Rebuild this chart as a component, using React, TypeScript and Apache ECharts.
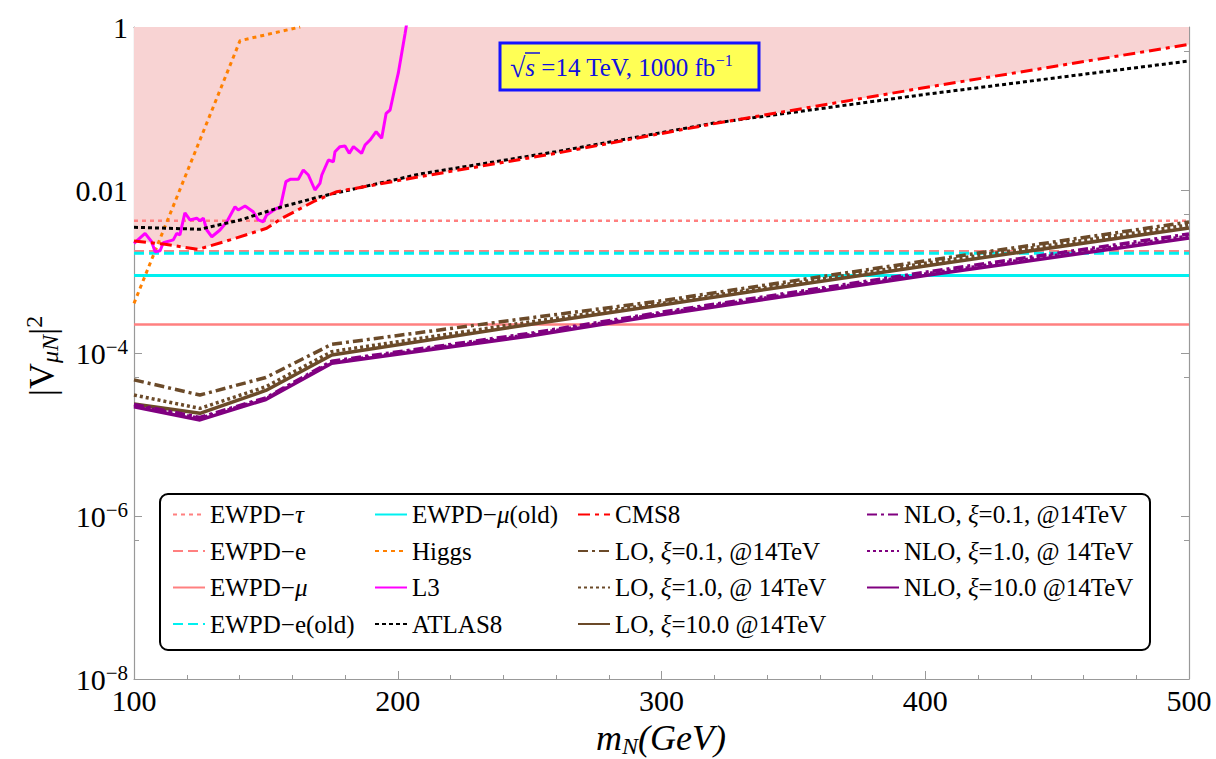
import React, { useEffect, useRef } from "react";
import * as echarts from "echarts";

const FONT = "Liberation Serif";

const xRange = [100, 500];

// horizontal constraints
const ewpdTau = 4.2e-3;
const ewpdE = 1.77e-3;
const ewpdMu = 2.23e-4;
const ewpdEOld = 1.67e-3;
const ewpdMuOld = 8.9e-4;

const higgsX = [100, 140.2, 163];
const higgsY = [4.07e-4, 0.68, 1.0];

const l3X = [100, 104.2, 106.7, 108.0, 109.9, 111.1, 114.9, 116.2, 117.4, 119.3, 121.2, 123.8, 125.0, 126.3, 127.6, 129.5, 132.6, 135.2, 138.3, 139.5, 142.1, 145.2, 147.1, 149.0, 150.3, 154.1, 155.4, 157.6, 159.2, 162.3, 164.2, 166.1, 168.6, 170.5, 171.2, 173.7, 175.6, 176.2, 178.1, 180.0, 181.6, 183.2, 186.3, 187.6, 189.5, 191.8, 193.9, 195.6, 197.1, 199.0, 200.2, 201.5, 202.8, 203.4];
const l3Y = [2.22e-3, 2.94e-3, 2.32e-3, 1.75e-3, 1.8e-3, 2.25e-3, 2.44e-3, 2.94e-3, 2.81e-3, 5.26e-3, 4.29e-3, 4.5e-3, 4.2e-3, 4.5e-3, 3.23e-3, 2.67e-3, 3.23e-3, 4.08e-3, 6.24e-3, 5.69e-3, 6.37e-3, 5.42e-3, 4.29e-3, 4.08e-3, 4.93e-3, 5.96e-3, 5.96e-3, 0.01265, 0.01352, 0.01352, 0.01758, 0.01528, 0.01, 0.01208, 0.01528, 0.02333, 0.02223, 0.02951, 0.03404, 0.03467, 0.02818, 0.03404, 0.02818, 0.03565, 0.04102, 0.05188, 0.04305, 0.0873, 0.0959, 0.185, 0.271, 0.476, 0.837, 1.11];

const atlasX = [100, 125, 140.2, 155.4, 170.5, 208.4, 260, 319.3, 398.3, 500];
const atlasY = [3.49e-3, 3.3e-3, 4.28e-3, 6.13e-3, 8.28e-3, 0.0157, 0.0295, 0.0658, 0.1466, 0.383];

const cmsX = [100, 111.1, 124.4, 136.4, 150.3, 155.4, 168, 176.9, 208.4, 260, 319.3, 398.3, 500];
const cmsY = [2.37e-3, 2.17e-3, 1.87e-3, 2.44e-3, 3.39e-3, 4.37e-3, 7.18e-3, 9.53e-3, 0.01456, 0.0282, 0.0646, 0.177, 0.612];

const massX = [100, 125, 150, 175, 250, 300, 400, 500];
const lo01 = [4.68e-5, 3.05e-5, 5.01e-5, 1.28e-4, 2.69e-4, 4.37e-4, 1.35e-3, 4.05e-3];
const lo10 = [3.05e-5, 2.09e-5, 3.86e-5, 1.04e-4, 2.4e-4, 4.07e-4, 1.26e-3, 3.72e-3];
const lo100 = [2.37e-5, 1.82e-5, 3.47e-5, 9.44e-5, 2.24e-4, 3.89e-4, 1.17e-3, 3.42e-3];
const nlo01 = [2.34e-5, 1.62e-5, 2.82e-5, 7.94e-5, 1.74e-4, 3.16e-4, 9.77e-4, 2.88e-3];
const nlo10 = [2.26e-5, 1.58e-5, 2.75e-5, 7.67e-5, 1.68e-4, 3.05e-4, 9.33e-4, 2.72e-3];
const nlo100 = [2.19e-5, 1.51e-5, 2.69e-5, 7.5e-5, 1.62e-4, 2.95e-4, 8.91e-4, 2.57e-3];

const legendCols = [
  ["EWPD-τ", "EWPD-e", "EWPD-μ", "EWPD-e(old)"],
  ["EWPD-μ(old)", "Higgs", "L3", "ATLAS8"],
  ["CMS8", "LO, ξ=0.1, @14TeV", "LO, ξ=1.0, @ 14TeV", "LO, ξ=10.0 @14TeV"],
  ["NLO, ξ=0.1, @14TeV", "NLO, ξ=1.0, @ 14TeV", "NLO, ξ=10.0 @14TeV"],
];
const legendLabels: Record<string, string> = {
  "EWPD-τ": "EWPD−{i|τ}",
  "EWPD-e": "EWPD−e",
  "EWPD-μ": "EWPD−{i|μ}",
  "EWPD-e(old)": "EWPD−e(old)",
  "EWPD-μ(old)": "EWPD−{i|μ}(old)",
  "LO, ξ=0.1, @14TeV": "LO, {i|ξ}=0.1, @14TeV",
  "LO, ξ=1.0, @ 14TeV": "LO, {i|ξ}=1.0, @ 14TeV",
  "LO, ξ=10.0 @14TeV": "LO, {i|ξ}=10.0 @14TeV",
  "NLO, ξ=0.1, @14TeV": "NLO, {i|ξ}=0.1, @14TeV",
  "NLO, ξ=1.0, @ 14TeV": "NLO, {i|ξ}=1.0, @ 14TeV",
  "NLO, ξ=10.0 @14TeV": "NLO, {i|ξ}=10.0 @14TeV",
};

const pairs = (xs: number[], ys: number[]) => xs.map((x, i) => [x, ys[i]]);
const hline = (v: number) => [[xRange[0], v], [xRange[1], v]];

const PINK = "#ff8080";
const CYAN = "#00f0f0";
const BROWN = "#6b4a29";
const PURPLE = "#800080";
const BLUE = "#1010e0";

const mk = (name: string, data: number[][], color: string, type: any, width: number, z = 3) => ({
  name,
  type: "line",
  data,
  symbol: "none",
  showSymbol: false,
  clip: true,
  z,
  lineStyle: { color, type, width },
  itemStyle: { color },
});

export default function App() {
  const ref = useRef<HTMLDivElement>(null);
  useEffect(() => {
    if (!ref.current) return;
    const chart = echarts.init(ref.current, undefined, { renderer: "svg" });
    const axisCommon = {
      axisLine: { show: true, lineStyle: { color: "#999", width: 1.2 } },
      splitLine: { show: false },
    };
    const option: any = {
      animation: false,
      backgroundColor: "#fff",
      textStyle: { fontFamily: FONT },
      grid: { left: 134, right: 27, top: 27, bottom: 80, containLabel: false, outerBoundsMode: "none" },
      xAxis: [
        {
          type: "value",
          min: xRange[0],
          max: xRange[1],
          interval: 100,
          ...axisCommon,
          axisTick: { show: true, inside: true, length: 8, lineStyle: { color: "#999" } },
          minorTick: { show: true, splitNumber: 5, length: 4, lineStyle: { color: "#999" } },
          axisLabel: { fontSize: 30, fontFamily: FONT, color: "#000", margin: 6 },
        },
        {
          type: "value",
          position: "top",
          min: xRange[0],
          max: xRange[1],
          interval: 100,
          ...axisCommon,
          axisTick: { show: true, inside: true, length: 8, lineStyle: { color: "#999" } },
          minorTick: { show: true, splitNumber: 5, length: 4, lineStyle: { color: "#999" } },
          axisLabel: { show: false },
        },
      ],
      yAxis: [
        {
          type: "log",
          logBase: 10,
          min: 1e-8,
          max: 1,
          interval: 2,
          ...axisCommon,
          axisTick: { show: true, inside: true, length: 8, lineStyle: { color: "#999" } },
          minorTick: { show: true, splitNumber: 2, length: 5, lineStyle: { color: "#999" } },
          axisLabel: {
            margin: 6,
            color: "#000",
            fontFamily: FONT,
            formatter: (v: number) => {
              const e = Math.round(Math.log10(v));
              if (e === 0) return "{b|1}";
              if (e === -2) return "{b|0.01}";
              return `{b|10}{s|−${-e}}`;
            },
            rich: {
              b: { fontSize: 30, fontFamily: FONT, color: "#000", lineHeight: 34 },
              s: { fontSize: 21, fontFamily: FONT, color: "#000", lineHeight: 21, verticalAlign: "top" },
            },
          },
        },
        {
          type: "log",
          logBase: 10,
          position: "right",
          min: 1e-8,
          max: 1,
          interval: 2,
          ...axisCommon,
          axisTick: { show: true, inside: true, length: 8, lineStyle: { color: "#999" } },
          minorTick: { show: true, splitNumber: 2, length: 5, lineStyle: { color: "#999" } },
          axisLabel: { show: false },
        },
      ],
      legend: legendCols.map((col, i) => ({
        data: col,
        orient: "vertical",
        left: [172, 374, 577, 866][i],
        top: 502,
        itemWidth: 32,
        itemHeight: 14,
        itemGap: 11.5,
        padding: 0,
        z: 10,
        selectedMode: false,
        itemStyle: { opacity: 0, borderWidth: 0 },
        formatter: (name: string) => legendLabels[name] ?? name,
        textStyle: {
          fontSize: 25,
          fontFamily: FONT,
          color: "#000",
          lineHeight: 25,
          rich: { i: { fontSize: 25, fontFamily: FONT, fontStyle: "italic", color: "#000", lineHeight: 25 } },
        },
      })),
      graphic: [
        {
          type: "rect",
          z: 5,
          shape: { x: 160, y: 494, width: 990, height: 156, r: 8 },
          style: { fill: "#fff", stroke: "#000", lineWidth: 2 },
        },
        {
          type: "rect",
          z: 20,
          shape: { x: 500, y: 43, width: 259, height: 47 },
          style: { fill: "#ffff55", stroke: "#1414ff", lineWidth: 3 },
        },
        {
          type: "text",
          z: 21,
          x: 510,
          y: 67,
          style: {
            text: "{r|√}{s|s} =14 TeV, 1000 fb{p|−1}",
            fontSize: 25,
            fontFamily: FONT,
            fill: BLUE,
            align: "left",
            verticalAlign: "middle",
            rich: {
              r: { fontSize: 28, fontFamily: FONT, fill: BLUE, lineHeight: 30 },
              s: { fontSize: 25, fontFamily: FONT, fontStyle: "italic", fill: BLUE, lineHeight: 30 },
              p: { fontSize: 16, fontFamily: FONT, fill: BLUE, lineHeight: 16, verticalAlign: "top" },
            },
          },
        },
        {
          type: "line",
          z: 21,
          shape: { x1: 525, y1: 53, x2: 540, y2: 53 },
          style: { stroke: BLUE, lineWidth: 1.5 },
        },
        {
          type: "text",
          z: 21,
          x: 661,
          y: 738,
          style: {
            text: "{i|m}{n|N}{i|(GeV)}",
            align: "center",
            verticalAlign: "middle",
            fill: "#000",
            rich: {
              i: { fontSize: 36, fontFamily: FONT, fontStyle: "italic", fill: "#000", lineHeight: 40 },
              n: { fontSize: 24, fontFamily: FONT, fontStyle: "italic", fill: "#000", lineHeight: 24, verticalAlign: "bottom" },
            },
          },
        },
        {
          type: "text",
          z: 21,
          x: 42,
          y: 356,
          rotation: Math.PI / 2,
          style: {
            text: "{b||V}{n|μN}{b||}{p|2}",
            align: "center",
            verticalAlign: "middle",
            fill: "#000",
            rich: {
              b: { fontSize: 36, fontFamily: FONT, fill: "#000", lineHeight: 40 },
              n: { fontSize: 24, fontFamily: FONT, fontStyle: "italic", fill: "#000", lineHeight: 24, verticalAlign: "bottom" },
              p: { fontSize: 24, fontFamily: FONT, fill: "#000", lineHeight: 24, verticalAlign: "top" },
            },
          },
        },
      ],
      series: [
        {
          name: "fill",
          type: "line",
          data: pairs(cmsX, cmsY),
          symbol: "none",
          z: 1,
          lineStyle: { width: 0, opacity: 0 },
          itemStyle: { color: "#f8d3d3" },
          areaStyle: { color: "#f8d3d3", opacity: 1, origin: "end" },
          silent: true,
        },
        mk("EWPD-τ", hline(ewpdTau), PINK, [4, 4], 2.5, 2),
        mk("EWPD-e", hline(ewpdE), PINK, [10, 5], 2.5, 2),
        mk("EWPD-μ", hline(ewpdMu), PINK, "solid", 2.5, 2),
        mk("EWPD-e(old)", hline(ewpdEOld), CYAN, [10, 5], 3, 2),
        mk("EWPD-μ(old)", hline(ewpdMuOld), CYAN, "solid", 3, 2),
        mk("Higgs", pairs(higgsX, higgsY), "#ff8000", [4, 4], 3),
        mk("L3", pairs(l3X, l3Y), "#ff00ff", "solid", 3),
        mk("ATLAS8", pairs(atlasX, atlasY), "#000", [4, 3], 3),
        mk("CMS8", pairs(cmsX, cmsY), "#ff0000", [12, 5, 4, 5], 3),
        mk("LO, ξ=0.1, @14TeV", pairs(massX, lo01), BROWN, [10, 4, 3, 4], 3.5),
        mk("LO, ξ=1.0, @ 14TeV", pairs(massX, lo10), BROWN, [3, 3], 3.5),
        mk("LO, ξ=10.0 @14TeV", pairs(massX, lo100), BROWN, "solid", 3.5),
        mk("NLO, ξ=0.1, @14TeV", pairs(massX, nlo01), PURPLE, [10, 4, 3, 4], 3.5),
        mk("NLO, ξ=1.0, @ 14TeV", pairs(massX, nlo10), PURPLE, [3, 3], 3.5),
        mk("NLO, ξ=10.0 @14TeV", pairs(massX, nlo100), PURPLE, "solid", 3.5),
      ],
    };
    chart.setOption(option);
    return () => chart.dispose();
  }, []);
  return <div ref={ref} style={{ position: "absolute", left: 0, top: 0, width: 1216, height: 759 }} />;
}
